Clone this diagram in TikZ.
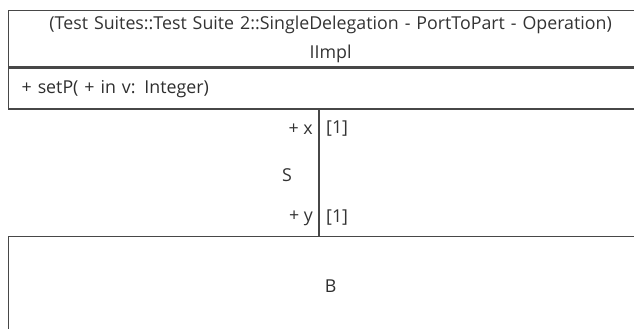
\documentclass[tikz,border=0pt]{standalone}
\usepackage{fontspec}
\setmainfont{Open Sans}
\usetikzlibrary{positioning,calc}

\begin{document}
\begin{tikzpicture}[
    x=1pt, y=1pt,
    font=\fontsize{17.8}{24}\selectfont,
    line/.style={draw=black!72, line width=1.3pt},
    compart/.style={line, rectangle, minimum width=644pt},
    lbl/.style={text=black!80, inner sep=0pt},
]
\useasboundingbox (0,0) rectangle (634,329);
\clip (0,0) rectangle (634,329);

% ---- Classifier: header + operations -------------------------------
\node[compart, anchor=north west, minimum height=56.5pt, inner sep=2pt, text width=640pt, align=center, text=black!80] (hdr) at (8,319)
    {(Test Suites::Test Suite 2::SingleDelegation - PortToPart - Operation)\\[5pt]IImpl};
\node[compart, anchor=north, minimum height=40.5pt, inner xsep=13pt, text width=618pt, align=left, text=black!82] (ops) at (hdr.south)
    {+ setP( + in v: Integer)};

% ---- Part B --------------------------------------------------------
\node[compart, anchor=north west, minimum height=98pt, text=black!82] (part) at (8,93) {B};

% ---- Connector -----------------------------------------------------
\coordinate (cx) at (319,0);
\draw[line, line width=1.2pt] (ops.south -| cx) -- (part.north -| cx);

% ---- Connector end labels ------------------------------------------
\node[lbl, anchor=east] (xname) at (313,200) {+ x};
\node[lbl, anchor=west] (xmult) at (326,200) {[1]};
\node[lbl] (role) at (287,154) {S};
\node[lbl, anchor=east] (yname) at (313,111) {+ y};
\node[lbl, anchor=west] (ymult) at (326,111) {[1]};

\end{tikzpicture}
\end{document}
